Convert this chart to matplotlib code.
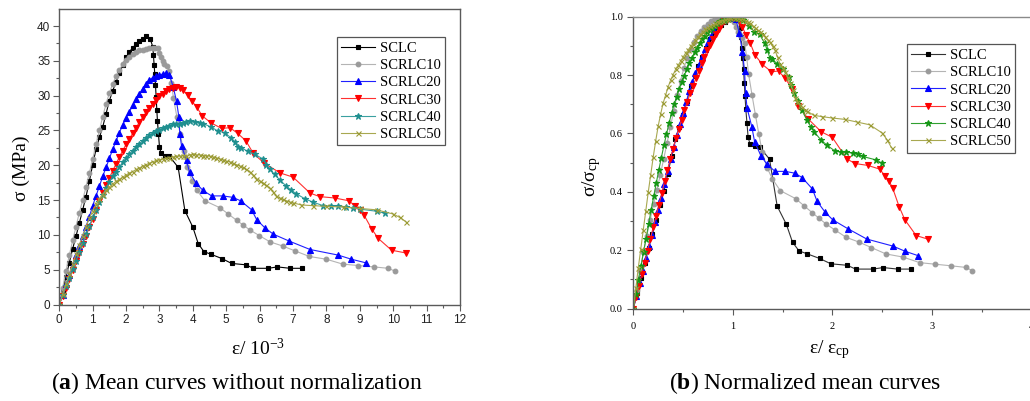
import numpy as np
import matplotlib
matplotlib.use("Agg")
import matplotlib.pyplot as plt
from matplotlib.ticker import MultipleLocator

plt.rcParams['font.family'] = ['Liberation Serif', 'DejaVu Serif']
plt.rcParams['mathtext.fontset'] = 'custom'
plt.rcParams['mathtext.rm'] = 'Liberation Serif'
plt.rcParams['mathtext.it'] = 'Liberation Serif:italic'
plt.rcParams['mathtext.bf'] = 'Liberation Serif:bold'

labels = ["SCLC", "SCRLC10", "SCRLC20", "SCRLC30", "SCRLC40", "SCRLC50"]

# strain (10^-3) and stress (MPa) of the mean curves
eps_sclc = [0, 0.1, 0.2, 0.3, 0.4, 0.5, 0.6, 0.7, 0.8, 0.9, 1.0, 1.1, 1.2, 1.3, 1.4, 1.5, 1.6, 1.7, 1.8, 1.9,
            2.0, 2.1, 2.2, 2.3, 2.4, 2.5, 2.6, 2.72, 2.8, 2.82, 2.84, 2.86, 2.88, 2.9, 2.92, 2.94, 2.97, 3.0, 3.05,
            3.18, 3.3, 3.56, 3.76, 4.0, 4.16, 4.33, 4.55, 4.87, 5.16, 5.59, 5.81, 6.26, 6.53, 6.91, 7.26]
sig_sclc = [0, 2.0, 4.0, 6.0, 8.0, 9.8, 11.7, 13.6, 15.5, 17.7, 20.1, 22.3, 24.0, 25.5, 27.4, 29.3, 30.7, 32.0, 33.2, 34.4,
            35.5, 36.3, 36.9, 37.4, 37.8, 38.2, 38.5, 38.2, 37.0, 35.8, 34.4, 33.1, 31.6, 29.8, 28.0, 26.3, 24.5, 22.6, 21.7,
            21.4, 21.3, 19.7, 13.5, 11.1, 8.75, 7.6, 7.2, 6.6, 5.9, 5.7, 5.2, 5.2, 5.4, 5.2, 5.2]

eps_10 = [0, 0.1, 0.2, 0.3, 0.4, 0.5, 0.6, 0.7, 0.8, 0.9, 1.0, 1.1, 1.2, 1.3, 1.4, 1.5, 1.6, 1.7, 1.8, 1.9,
          2.0, 2.1, 2.2, 2.3, 2.4, 2.5, 2.6, 2.7, 2.8,
          2.88, 2.95, 3.0, 3.05, 3.1, 3.15, 3.22, 3.3, 3.36, 3.42, 3.52, 3.62, 3.72, 3.82, 3.97, 4.12, 4.36, 4.81,
          5.06, 5.31, 5.51, 5.71, 5.99, 6.31, 6.69, 7.06, 7.49, 8.0, 8.49, 8.95, 9.42, 9.85, 10.05]
sig_10 = [0, 2.4, 4.8, 7.1, 9.2, 11.2, 13.2, 15.0, 16.9, 18.9, 20.9, 23.0, 25.0, 27.0, 28.8, 30.4, 31.7, 32.8, 33.7, 34.5,
          35.1, 35.6, 36.0, 36.3, 36.5, 36.6, 36.7, 36.8, 36.8,
          36.8, 36.9, 36.2, 35.6, 35.0, 34.6, 34.2, 33.6, 31.8, 29.6, 27.0, 24.5, 22.1, 19.8, 17.8, 16.4, 14.9, 13.9,
          13.0, 12.1, 11.4, 10.7, 9.9, 9.0, 8.4, 7.7, 6.9, 6.5, 5.8, 5.6, 5.4, 5.2, 4.8]

eps_20 = [0, 0.1, 0.2, 0.3, 0.4, 0.5, 0.6, 0.7, 0.8, 0.9, 1.0, 1.1, 1.2, 1.3, 1.4, 1.5, 1.6, 1.7, 1.8, 1.9,
          2.0, 2.1, 2.2, 2.3, 2.4, 2.5, 2.6, 2.7, 2.8, 2.9, 3.0, 3.1, 3.2,
          3.3, 3.41, 3.51, 3.58, 3.61, 3.66, 3.81, 3.9, 4.1, 4.3, 4.56, 4.89, 5.19, 5.43, 5.76, 5.91, 6.16, 6.41,
          6.89, 7.51, 8.35, 8.75, 9.17]
sig_20 = [0, 1.4, 2.9, 4.3, 5.7, 7.1, 8.4, 9.8, 11.2, 12.6, 14.2, 15.6, 17.0, 18.4, 19.7, 21.0, 22.3, 23.5, 24.7, 25.8,
          26.8, 27.7, 28.6, 29.5, 30.3, 31.0, 31.7, 32.3, 32.6, 32.8, 33.0, 33.1, 33.2,
          32.9, 31.3, 29.2, 27.0, 24.5, 22.8, 20.7, 19.0, 17.4, 16.4, 15.6, 15.6, 15.4, 14.9, 13.6, 12.2, 11.0, 10.1,
          9.1, 7.9, 7.1, 6.5, 6.0]

eps_30 = [0, 0.1, 0.2, 0.3, 0.4, 0.5, 0.6, 0.7, 0.8, 0.9, 1.0, 1.1, 1.2, 1.3, 1.4, 1.5, 1.6, 1.7, 1.8, 1.9,
          2.0, 2.1, 2.2, 2.3, 2.4, 2.5, 2.6, 2.7, 2.8, 2.9, 3.0, 3.1, 3.2, 3.3, 3.4, 3.5,
          3.6, 3.71, 3.84, 3.97, 4.11, 4.28, 4.54, 4.86, 5.11, 5.34, 5.59, 5.81, 6.14, 6.61, 7.0, 7.51, 7.8, 8.25,
          8.67, 8.85, 9.0, 9.12, 9.35, 9.55, 9.95, 10.38]
sig_30 = [0, 1.2, 2.4, 3.7, 4.9, 6.2, 7.4, 8.7, 9.9, 11.1, 12.3, 13.6, 14.8, 16.0, 17.1, 18.2, 19.2, 20.2, 21.2, 22.1,
          23.0, 23.8, 24.6, 25.4, 26.2, 26.9, 27.6, 28.2, 28.8, 29.4, 29.9, 30.3, 30.7, 30.9, 31.1, 31.2,
          31.1, 30.8, 30.1, 29.2, 28.4, 27.1, 26.1, 25.3, 25.4, 24.6, 23.5, 21.7, 20.3, 18.9, 18.3, 16.0, 15.5, 15.3,
          14.9, 14.2, 13.6, 12.9, 10.9, 9.5, 7.8, 7.4]

eps_40 = [0, 0.1, 0.2, 0.3, 0.4, 0.5, 0.6, 0.7, 0.8, 0.9, 1.0, 1.1, 1.2, 1.3, 1.4, 1.5, 1.6, 1.7, 1.8, 1.9,
          2.0, 2.1, 2.2, 2.3, 2.4, 2.5, 2.6, 2.7, 2.8, 2.9, 3.0, 3.1, 3.2, 3.3, 3.4, 3.5, 3.6, 3.7, 3.8, 3.9,
          4.05, 4.2, 4.3, 4.55, 4.75, 4.95, 5.15, 5.25, 5.35, 5.45, 5.65, 5.85, 6.1, 6.2, 6.3, 6.45, 6.6, 6.8,
          6.95, 7.1, 7.35, 7.6, 7.9, 8.15, 8.35, 8.6, 8.8, 9.0, 9.5, 9.75]
sig_40 = [0, 1.3, 2.6, 3.8, 5.1, 6.3, 7.6, 8.9, 10.1, 11.3, 12.5, 13.6, 14.7, 15.7, 16.7, 17.6, 18.4, 19.1, 19.8, 20.4,
          21.0, 21.6, 22.1, 22.6, 23.1, 23.5, 23.9, 24.3, 24.6, 24.9, 25.1, 25.3, 25.5, 25.7, 25.9, 26.0, 26.0, 26.1, 26.2, 26.3,
          26.2, 26.1, 26.0, 25.5, 24.9, 24.7, 23.9, 23.3, 22.6, 22.5, 22.0, 21.6, 20.9, 20.1, 19.4, 18.7, 17.9, 17.0,
          16.4, 15.9, 15.2, 14.7, 14.2, 14.1, 14.1, 14.0, 13.9, 13.7, 13.4, 13.1]

eps_50 = [0, 0.1, 0.2, 0.3, 0.4, 0.5, 0.6, 0.7, 0.8, 0.9, 1.0, 1.1, 1.2, 1.3, 1.4, 1.5, 1.6, 1.7, 1.8, 1.9,
          2.0, 2.1, 2.2, 2.3, 2.4, 2.5, 2.6, 2.7, 2.8, 2.9, 3.0, 3.1, 3.2, 3.3, 3.4, 3.5, 3.6, 3.7, 3.8, 3.9,
          4.0, 4.1, 4.2, 4.3, 4.4, 4.5, 4.6, 4.7, 4.8, 4.9, 5.0, 5.1, 5.2, 5.3, 5.4, 5.5, 5.6, 5.7, 5.8, 5.9,
          6.0, 6.1, 6.2, 6.3, 6.4, 6.5, 6.6, 6.7, 6.8, 6.9, 7.0, 7.25, 7.6, 8.0, 8.5, 9.0, 9.5, 10.0, 10.2, 10.38]
sig_50 = [0, 1.5, 3.0, 4.4, 5.8, 7.2, 8.6, 9.9, 11.2, 12.4, 13.5, 14.4, 15.2, 15.8, 16.4, 16.9, 17.3, 17.7, 18.0, 18.3,
          18.6, 18.9, 19.1, 19.4, 19.6, 19.9, 20.1, 20.3, 20.5, 20.7, 20.8, 20.9, 21.0, 21.1, 21.2, 21.3, 21.3, 21.4, 21.4, 21.5,
          21.6, 21.5, 21.5, 21.4, 21.4, 21.3, 21.2, 21.1, 20.9, 20.8, 20.6, 20.5, 20.3, 20.1, 19.9, 19.7, 19.4, 19.1, 18.6, 18.1,
          17.8, 17.5, 17.1, 16.7, 16.2, 15.6, 15.3, 15.1, 14.9, 14.7, 14.6, 14.3, 14.2, 14.1, 14.0, 13.8, 13.6, 13.0, 12.5, 11.9]

eps_all = [eps_sclc, eps_10, eps_20, eps_30, eps_40, eps_50]
sig_all = [sig_sclc, sig_10, sig_20, sig_30, sig_40, sig_50]

markers = ['s', 'o', '^', 'v', '*', 'x']
msizes = [3.2, 3.4, 3.8, 3.8, 4.6, 3.6]
colors_a = ['#000000', '#9a9a9a', '#0000ff', '#ff0000', '#1f8f8f', '#9b9b35']
colors_b = ['#000000', '#9a9a9a', '#0000ff', '#ff0000', '#149614', '#9b9b35']
lines_a = ['#000000', '#b4b4b4', '#2020ff', '#ff3030', '#3aa0a0', '#a8a850']
lines_b = ['#333333', '#b4b4b4', '#2020ff', '#ff3030', '#30a030', '#a8a850']

W, H = 1030, 401
fig = plt.figure(figsize=(W / 100, H / 100), dpi=100)

def fx(px):
    return px / W

def fy(py):
    return 1 - py / H

spine_c = '#5a5a5a'

# ---------- (a) ----------
ax1 = fig.add_axes([fx(59.3), fy(304.5), (460 - 59.3) / W, (304.5 - 9) / H])
for e, s, m, ms, c, lc, lab in zip(eps_all, sig_all, markers, msizes, colors_a, lines_a, labels):
    ax1.plot(e, s, color=lc, lw=0.8, marker=m, ms=ms, mfc=c, mec=c, mew=0.8, label=lab)
ax1.set_xlim(0, 12)
ax1.set_ylim(0, 42.45)
ax1.xaxis.set_major_locator(MultipleLocator(1))
ax1.xaxis.set_minor_locator(MultipleLocator(0.5))
ax1.yaxis.set_major_locator(MultipleLocator(5))
ax1.yaxis.set_minor_locator(MultipleLocator(2.5))
ax1.tick_params(which='both', direction='out', color=spine_c, width=0.8)
ax1.tick_params(which='major', length=4.5, labelsize=8.5, pad=2)
ax1.tick_params(which='minor', length=2.5)
for lbl in ax1.get_xticklabels() + ax1.get_yticklabels():
    lbl.set_family(['Liberation Sans', 'DejaVu Sans'])
    lbl.set_color('#222222')
for sp in ax1.spines.values():
    sp.set_color(spine_c)
    sp.set_linewidth(1.0)
leg1 = ax1.legend(loc='upper left', bbox_to_anchor=(0.693, 0.905), fontsize=10.5, frameon=True,
                  fancybox=False, edgecolor='#555555', handlelength=2.3, handletextpad=0.35,
                  labelspacing=0.28, borderpad=0.3, borderaxespad=0.0, framealpha=1)
leg1.get_frame().set_linewidth(0.9)

# ---------- (b) ----------
ax2 = fig.add_axes([fx(633.3), fy(308.5), 398 / W, (308.5 - 16.7) / H])
for e, s, m, ms, c, lc, lab in zip(eps_all, sig_all, markers, msizes, colors_b, lines_b, labels):
    e = np.asarray(e, float)
    s = np.asarray(s, float)
    k = int(np.argmax(s))
    ax2.plot(e / e[k], s / s[k], color=lc, lw=0.8, marker=m, ms=ms, mfc=c, mec=c, mew=0.8, label=lab)
ax2.set_xlim(0, 4)
ax2.set_ylim(0, 1.0)
ax2.xaxis.set_major_locator(MultipleLocator(1))
ax2.xaxis.set_minor_locator(MultipleLocator(0.5))
ax2.yaxis.set_major_locator(MultipleLocator(0.2))
ax2.yaxis.set_minor_locator(MultipleLocator(0.1))
ax2.yaxis.set_major_formatter(matplotlib.ticker.FormatStrFormatter('%.1f'))
ax2.tick_params(which='both', direction='out', color=spine_c, width=0.8)
ax2.tick_params(which='major', length=4.5, labelsize=7.5, pad=3)
ax2.tick_params(which='minor', length=2.5)
ax2.tick_params(axis='x', pad=5)
for sp in ax2.spines.values():
    sp.set_color(spine_c)
    sp.set_linewidth(1.0)
ax2.spines['top'].set_color('#8a8a8a')
leg2 = ax2.legend(loc='upper left', bbox_to_anchor=(0.687, 0.905), fontsize=10.5, frameon=True,
                  fancybox=False, edgecolor='#555555', handlelength=2.3, handletextpad=0.35,
                  labelspacing=0.28, borderpad=0.3, borderaxespad=0.0, framealpha=1)
leg2.get_frame().set_linewidth(0.9)

# ---------- labels & captions ----------
fig.text(fx(21), fy(168), 'σ (MPa)', rotation=90, ha='center', va='center', fontsize=14)
fig.text(fx(258), fy(348), 'ε/ 10$^{-3}$', ha='center', va='center', fontsize=14)
fig.text(fx(592), fy(177), 'σ/σ$_{\\mathrm{cp}}$', rotation=90, ha='center', va='center', fontsize=14)
fig.text(fx(830), fy(350), 'ε/ ε$_{\\mathrm{cp}}$', ha='center', va='center', fontsize=14)
fig.text(fx(237), fy(383), '($\\mathbf{a}$) Mean curves without normalization', ha='center', va='center', fontsize=17)
fig.text(fx(805), fy(383), '($\\mathbf{b}$) Normalized mean curves', ha='center', va='center', fontsize=17)

fig.savefig('out.png', dpi=100)
